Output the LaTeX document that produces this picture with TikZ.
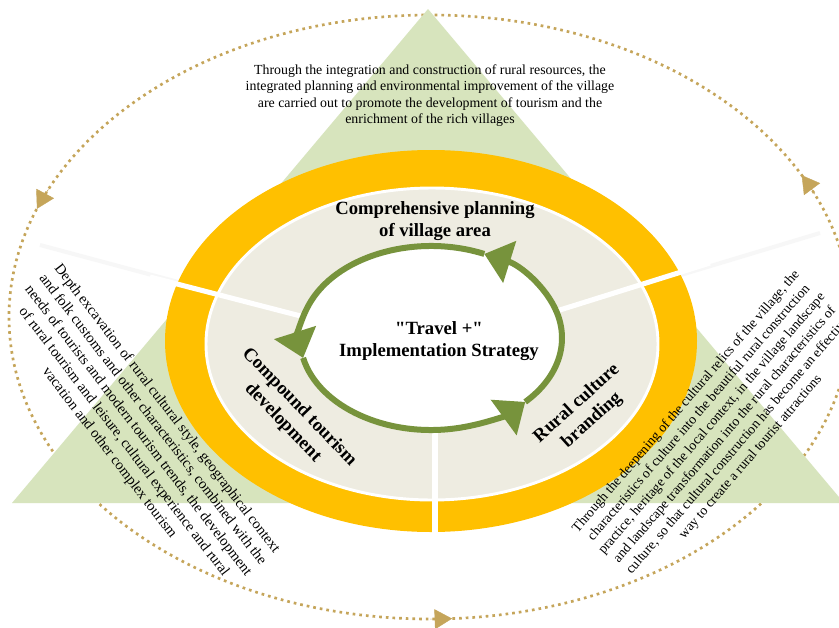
\documentclass[tikz,border=0pt]{standalone}
\usepackage{fontspec}
\setmainfont{Liberation Serif}[Ligatures=TeXOff]
\usetikzlibrary{arrows.meta}
\definecolor{dotgold}{HTML}{C5A55A}
\definecolor{trigreen}{HTML}{D7E4BD}
\definecolor{ringyellow}{HTML}{FFC000}
\definecolor{ringbeige}{HTML}{EEECE1}
\definecolor{olivegreen}{HTML}{77933C}
\begin{document}
\begin{tikzpicture}[x=0.75pt,y=-0.75pt,
  dotring/.style={draw=dotgold, line width=2pt, dash pattern=on 2pt off 3pt},
  dottip/.style={draw=dotgold, fill=dotgold, line width=0.3pt, -{Triangle[width=15pt,length=13pt]}},
  cyclearc/.style={draw=olivegreen, line width=4.5pt, -{Triangle[width=32pt,length=20pt]}},
  gapline/.style={draw=white, line width=3.8pt},
  faintline/.style={draw=black!3, line width=3pt},
  notetext/.style={align=center, inner sep=0pt, text=black},
  ringlabel/.style={align=center, inner sep=0pt, text=black, font=\bfseries\fontsize{14}{17}\selectfont},
]
\useasboundingbox (0,0) rectangle (839,628);
\fill[white] (0,0) rectangle (839,628);

% outer dotted cycle
\coordinate (dc) at (430,317);
\draw[dotring] (dc) ellipse [x radius=421, y radius=302];
\draw[dottip] (dc) ++(-155:421 and 302) arc[start angle=-155, end angle=-159, x radius=421, y radius=302];
\draw[dottip] (dc) ++(-24:421 and 302) arc[start angle=-24, end angle=-28, x radius=421, y radius=302];
\draw[dottip] (dc) ++(90:421 and 302) arc[start angle=90, end angle=87, x radius=421, y radius=302];

% faint extensions of the ring gaps
\coordinate (gapc) at (432,350);
\coordinate (faintL) at (40,245);
\coordinate (faintR) at (820,233);
\draw[faintline] (gapc) -- (faintL);
\draw[faintline] (gapc) -- (faintR);

% green triangle
\coordinate (apex) at (428,9);
\coordinate (baseL) at (12,503);
\coordinate (baseR) at (844,503);
\fill[trigreen] (apex) -- (baseL) -- (baseR) -- cycle;

% rings
\coordinate (rc) at (431,341);
\coordinate (bc) at (432,344);
\fill[ringyellow] (rc) ellipse [x radius=266, y radius=191];
\filldraw[fill=ringbeige, draw=white, line width=2.2pt] (bc) ellipse [x radius=226, y radius=156];

% gaps
\coordinate (gapL) at (150,277);
\coordinate (gapR) at (710,263);
\coordinate (gapBtop) at (435,350);
\coordinate (gapB) at (435,540);
\draw[gapline] (gapc) -- (gapL);
\draw[gapline] (gapc) -- (gapR);
\draw[gapline] (gapBtop) -- (gapB);

% centre
\coordinate (gc) at (431,338);
\fill[white] (gc) ellipse [x radius=131, y radius=92];
\draw[cyclearc] (gc) ++(44:131 and 92) arc[start angle=44, end angle=-66, x radius=131, y radius=92];
\draw[cyclearc] (gc) ++(-66:131 and 92) arc[start angle=-66, end angle=-192.5, x radius=131, y radius=92];
\draw[cyclearc] (gc) ++(-192.5:131 and 92) arc[start angle=-192.5, end angle=-316, x radius=131, y radius=92];

% texts
\node[notetext, font=\fontsize{10.4}{12.2}\selectfont] (toptext) at (430,95.5)
  {Through the integration and construction of rural resources, the\\
   integrated planning and environmental improvement of the village\\
   are carried out to promote the development of tourism and the\\
   enrichment of the rich villages};
\node[notetext, font=\fontsize{11}{13.6}\selectfont, rotate=-52.4] (lefttext) at (138,431)
  {Depth excavation of rural cultural style, geographical context\\
   and folk customs and other characteristics, combined with the\\
   needs of tourists and modern tourism trends, the development\\
   of rural tourism and leisure, cultural experience and rural\\
   vacation and other complex tourism};
\node[notetext, font=\fontsize{10.3}{12.75}\selectfont, rotate=49.3] (righttext) at (718.5,429.5)
  {Through the deepening of the cultural relics of the village, the\\
   characteristics of culture into the beautiful rural construction\\
   practice, heritage of the local context, in the village landscape\\
   and landscape transformation into the rural characteristics of\\
   culture, so that cultural construction has become an effective\\
   way to create a rural tourist attractions};

\node[ringlabel] (plan) at (435,221) {Comprehensive planning\\of village area};
\node[ringlabel, rotate=-46] (compound) at (291,415) {Compound tourism\\development};
\node[ringlabel, rotate=42] (brand) at (584.5,412) {Rural culture\\branding};
\node[ringlabel] (centre) at (439,341) {"Travel +"\\Implementation Strategy};
\end{tikzpicture}
\end{document}
